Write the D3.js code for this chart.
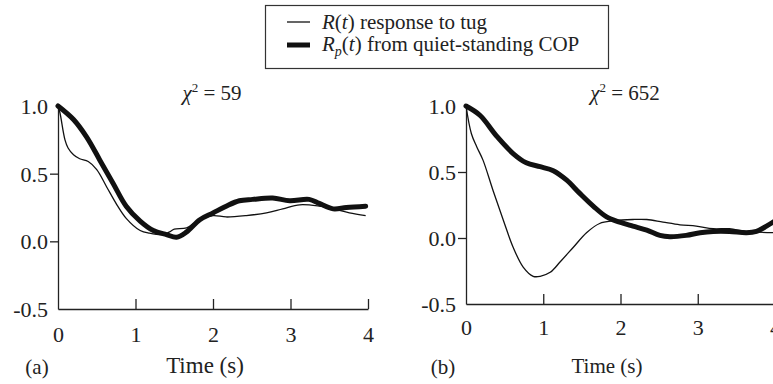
<!DOCTYPE html>
<html>
<head>
<meta charset="utf-8">
<script src="https://cdn.jsdelivr.net/npm/d3@7"></script>
<style>
  body { margin: 0; background: #fff; }
  svg { display: block; }
  svg text { font-family: "Liberation Serif", "DejaVu Serif", serif; }
  .axis path, .axis line { stroke: #222; stroke-width: 1.3; }
  .axis text { font-size: 22px; fill: #222; }
</style>
</head>
<body>
<svg width="773" height="384"></svg>
<script>
// panel (a)
const timeA_R = [0, 0.025, 0.09, 0.13, 0.2, 0.28, 0.39, 0.5, 0.63, 0.76, 0.88, 1.06, 1.18, 1.36, 1.44, 1.5, 1.66, 1.83, 2.0, 2.17, 2.43, 2.69, 2.9, 3.12, 3.37, 3.55, 3.76, 3.97]
const valA_R = [1.0, 0.95, 0.75, 0.69, 0.64, 0.61, 0.59, 0.53, 0.4, 0.27, 0.17, 0.08, 0.06, 0.05, 0.07, 0.09, 0.1, 0.16, 0.19, 0.18, 0.19, 0.21, 0.24, 0.27, 0.26, 0.24, 0.21, 0.19]
const timeA_Rp = [0, 0.2, 0.37, 0.54, 0.71, 0.88, 1.06, 1.23, 1.4, 1.53, 1.66, 1.83, 2.0, 2.17, 2.34, 2.51, 2.77, 2.99, 3.24, 3.37, 3.55, 3.72, 3.97]
const valA_Rp = [1.0, 0.9, 0.77, 0.6, 0.43, 0.26, 0.15, 0.08, 0.05, 0.03, 0.07, 0.16, 0.21, 0.26, 0.3, 0.31, 0.32, 0.3, 0.31, 0.28, 0.24, 0.25, 0.26]

// panel (b)
const timeB_R = [0, 0.07, 0.14, 0.22, 0.35, 0.48, 0.61, 0.74, 0.87, 0.96, 1.09, 1.22, 1.39, 1.56, 1.73, 1.91, 2.16, 2.34, 2.55, 2.77, 2.98, 3.2, 3.41, 3.63, 4.0]
const valB_R = [1.0, 0.79, 0.69, 0.59, 0.36, 0.14, -0.07, -0.22, -0.29, -0.29, -0.26, -0.18, -0.07, 0.04, 0.11, 0.13, 0.14, 0.14, 0.12, 0.1, 0.09, 0.07, 0.07, 0.05, 0.04]
const timeB_Rp = [0, 0.18, 0.4, 0.61, 0.78, 0.96, 1.13, 1.3, 1.47, 1.65, 1.82, 1.99, 2.16, 2.34, 2.51, 2.64, 2.85, 3.03, 3.2, 3.41, 3.63, 3.76, 3.89, 4.0]
const valB_Rp = [1.0, 0.93, 0.77, 0.64, 0.57, 0.54, 0.51, 0.44, 0.34, 0.24, 0.16, 0.12, 0.09, 0.06, 0.02, 0.01, 0.02, 0.04, 0.05, 0.05, 0.04, 0.05, 0.09, 0.13]

const xTicks = [0, 1, 2, 3, 4]
const yTicks = [1.0, 0.5, 0.0, -0.5]
const chiLabels = ["59", "652"]
const panelLabels = ["(a)", "(b)"]

const serif = '"Liberation Serif", "DejaVu Serif", serif'
const svg = d3.select('svg')

const panels = [
    { x0: 58, x1: 368, yTop: 106, yBot: 309, R: [timeA_R, valA_R], Rp: [timeA_Rp, valA_Rp], chi: chiLabels[0], lab: panelLabels[0], labX: 37, chiX: 212, titleX: 205, titleSize: 23, xLabY: 342 },
    { x0: 466, x1: 775, yTop: 106, yBot: 304, R: [timeB_R, valB_R], Rp: [timeB_Rp, valB_Rp], chi: chiLabels[1], lab: panelLabels[1], labX: 443, chiX: 625, titleX: 607, titleSize: 21, xLabY: 335 }
]

panels.forEach(p => drawPanel(p))

function drawPanel(p) {
    const x = d3.scaleLinear().domain([0, 4]).range([p.x0, p.x1])
    const y = d3.scaleLinear().domain([-0.5, 1.0]).range([p.yBot, p.yTop])
    const g = svg.append('g')

    // x axis, ticks pointing up into the plot
    const xa = g.append('g')
        .attr('class', 'axis')
        .attr('transform', `translate(0,${p.yBot})`)
        .call(d3.axisBottom(x).tickValues(xTicks).tickSizeInner(-10).tickSizeOuter(0).tickFormat(d3.format('d')))
    xa.attr('font-family', serif)
    xa.selectAll('.tick text').attr('y', 0).attr('dy', null)
        .attr('transform', `translate(0,${p.xLabY - p.yBot})`)
    xa.selectAll('.tick line').filter(d => d === 0).remove()

    // y axis (plain hyphen for the minus, like the original)
    const ya = g.append('g')
        .attr('class', 'axis')
        .attr('transform', `translate(${p.x0},0)`)
        .call(d3.axisLeft(y).tickValues(yTicks).tickSizeInner(8).tickSizeOuter(0)
            .tickFormat(d => d3.format('.1f')(d).replace('−', '-')))
    ya.attr('font-family', serif)
    ya.selectAll('.tick line').filter(d => d === 1 || d === -0.5).remove()
    ya.selectAll('.tick text').attr('x', -10).attr('dy', '0.34em')

    const line = d3.line()
        .x(d => x(d[0]))
        .y(d => y(d[1]))
        .curve(d3.curveCatmullRom)

    const thin = p.R[0].map((t, i) => [t, p.R[1][i]])
    const thick = p.Rp[0].map((t, i) => [t, p.Rp[1][i]])

    g.append('path').datum(thin)
        .attr('d', line).attr('fill', 'none')
        .attr('stroke', '#111').attr('stroke-width', 1.3)
    g.append('path').datum(thick)
        .attr('d', line).attr('fill', 'none')
        .attr('stroke', '#111').attr('stroke-width', 5)
        .attr('stroke-linecap', 'round').attr('stroke-linejoin', 'round')

    // chi square label
    const chi = g.append('text')
        .attr('x', p.chiX).attr('y', 100)
        .attr('text-anchor', 'middle')
        .attr('font-size', 21).attr('fill', '#222')
    chi.append('tspan').attr('font-style', 'italic').text('χ')
    chi.append('tspan').attr('font-size', 13).attr('dy', -8).text('2')
    chi.append('tspan').attr('dy', 8).text(' = ' + p.chi)

    g.append('text')
        .attr('x', p.titleX).attr('y', 373)
        .attr('text-anchor', 'middle')
        .attr('font-size', p.titleSize).attr('fill', '#222')
        .text('Time (s)')

    g.append('text')
        .attr('x', p.labX).attr('y', 374)
        .attr('text-anchor', 'middle')
        .attr('font-size', 21).attr('fill', '#222')
        .text(p.lab)
}

// legend
const legend = svg.append('g')
legend.append('rect')
    .attr('x', 265.5).attr('y', 5.5).attr('width', 343).attr('height', 63)
    .attr('fill', '#fff').attr('stroke', '#333').attr('stroke-width', 1.2)

legend.append('line')
    .attr('x1', 287).attr('x2', 310).attr('y1', 22).attr('y2', 22)
    .attr('stroke', '#111').attr('stroke-width', 1.3)
legend.append('line')
    .attr('x1', 287).attr('x2', 310).attr('y1', 45).attr('y2', 45)
    .attr('stroke', '#111').attr('stroke-width', 5)

const t1 = legend.append('text').attr('x', 322).attr('y', 29).attr('font-size', 21).attr('fill', '#222')
t1.append('tspan').attr('font-style', 'italic').text('R')
t1.append('tspan').text('(')
t1.append('tspan').attr('font-style', 'italic').text('t')
t1.append('tspan').text(') response to tug')

const t2 = legend.append('text').attr('x', 322).attr('y', 51).attr('font-size', 21).attr('fill', '#222')
t2.append('tspan').attr('font-style', 'italic').text('R')
t2.append('tspan').attr('font-style', 'italic').attr('font-size', 14).attr('dy', 5).text('p')
t2.append('tspan').attr('dy', -5).text('(')
t2.append('tspan').attr('font-style', 'italic').text('t')
t2.append('tspan').text(') from quiet-standing COP')
</script>
</body>
</html>
